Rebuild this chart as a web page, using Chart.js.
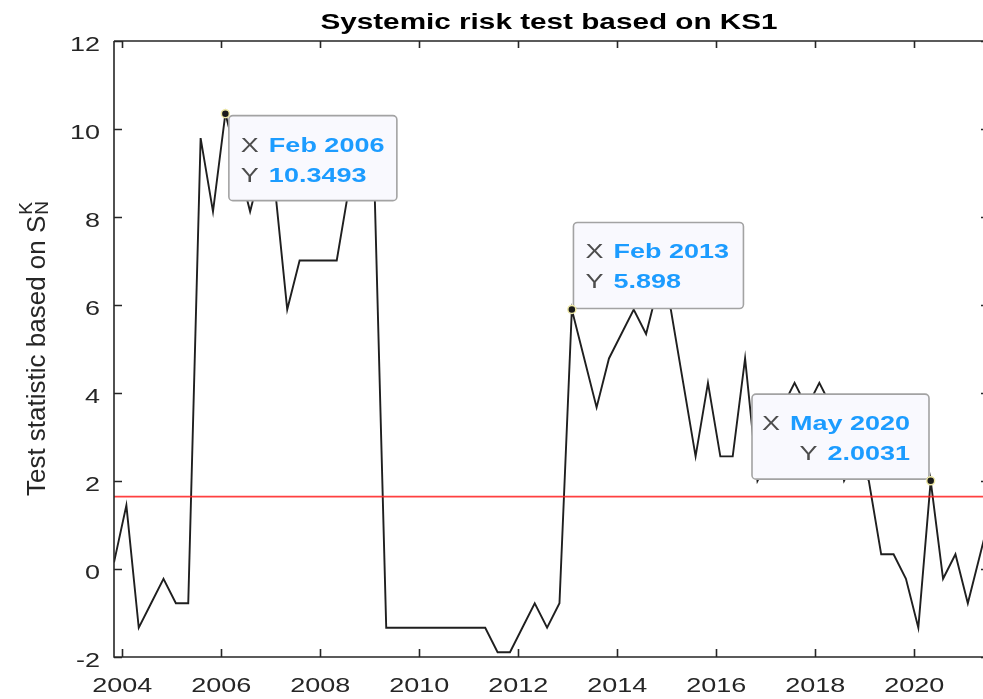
<!DOCTYPE html>
<html>
<head>
<meta charset="utf-8">
<script src="https://cdn.jsdelivr.net/npm/chart.js@4.4.1/dist/chart.umd.min.js"></script>
<style>
  html, body { margin: 0; padding: 0; background: #fff; }
  #wrap { width: 983px; height: 699px; }
</style>
</head>
<body>
<div id="wrap"><canvas id="ks1" width="983" height="699"></canvas></div>
<script>
// quarterly observations
const quarters = [
  'Nov 2003', 'Feb 2004', 'May 2004', 'Aug 2004', 'Nov 2004', 'Feb 2005', 'May 2005', 'Aug 2005',
  'Nov 2005', 'Feb 2006', 'May 2006', 'Aug 2006', 'Nov 2006', 'Feb 2007', 'May 2007', 'Aug 2007',
  'Nov 2007', 'Feb 2008', 'May 2008', 'Aug 2008', 'Nov 2008', 'Feb 2009', 'May 2009', 'Aug 2009',
  'Nov 2009', 'Feb 2010', 'May 2010', 'Aug 2010', 'Nov 2010', 'Feb 2011', 'May 2011', 'Aug 2011',
  'Nov 2011', 'Feb 2012', 'May 2012', 'Aug 2012', 'Nov 2012', 'Feb 2013', 'May 2013', 'Aug 2013',
  'Nov 2013', 'Feb 2014', 'May 2014', 'Aug 2014', 'Nov 2014', 'Feb 2015', 'May 2015', 'Aug 2015',
  'Nov 2015', 'Feb 2016', 'May 2016', 'Aug 2016', 'Nov 2016', 'Feb 2017', 'May 2017', 'Aug 2017',
  'Nov 2017', 'Feb 2018', 'May 2018', 'Aug 2018', 'Nov 2018', 'Feb 2019', 'May 2019', 'Aug 2019',
  'Nov 2019', 'Feb 2020', 'May 2020', 'Aug 2020', 'Nov 2020', 'Feb 2021', 'May 2021', 'Aug 2021',
];

const ks1Stat = [
  0.15, 1.4467, -1.3353, -0.7789, -0.2225, -0.7789, -0.7789, 9.7927,
  8.1235, 10.3493, 9.2363, 8.1235, 9.2363, 8.6799, 5.8979, 7.0107,
  7.0107, 7.0107, 7.0107, 8.6799, 9.7927, 9.2363, -1.3353, -1.3353,
  -1.3353, -1.3353, -1.3353, -1.3353, -1.3353, -1.3353, -1.3353, -1.8917,
  -1.8917, -1.3353, -0.7789, -1.3353, -0.7789, 5.898, 4.7851, 3.6723,
  4.7851, 5.3415, 5.8979, 5.3415, 6.4543, 5.8979, 4.2287, 2.5595,
  4.2287, 2.5595, 2.5595, 4.7851, 2.0031, 2.5595, 3.6723, 4.2287,
  3.6723, 4.2287, 3.6723, 2.0031, 2.5595, 2.0031, 0.3339, 0.3339,
  -0.2225, -1.3353, 2.0031, -0.2225, 0.3339, -0.7789, 0.3339, 1.4467,
];

const criticalValue = 1.645;
const xTickYears = [2004, 2006, 2008, 2010, 2012, 2014, 2016, 2018, 2020];
const yTickValues = [-2, 0, 2, 4, 6, 8, 10, 12];
const datatipQuarters = ['Feb 2006', 'Feb 2013', 'May 2020'];

const monthNames = ['Jan', 'Feb', 'Mar', 'Apr', 'May', 'Jun', 'Jul', 'Aug', 'Sep', 'Oct', 'Nov', 'Dec'];
const toYear = (q) => {
  const [m, y] = q.split(' ');
  return Number(y) + monthNames.indexOf(m) / 12;
};

const points = quarters.map((q, i) => ({ x: toYear(q), y: ks1Stat[i] }));
const xMin = toYear(quarters[0]);
const xMax = 2021.39;

// MATLAB export is stretched sideways, so text gets the same squeeze
const SX = 1.35;
const AXIS = '#262626';
const FONT = '"Liberation Sans", Arial, Helvetica, sans-serif';

function text(ctx, str, x, y, font, color, align) {
  ctx.save();
  ctx.font = font;
  ctx.fillStyle = color;
  ctx.textBaseline = 'alphabetic';
  ctx.textAlign = align || 'left';
  ctx.translate(x, y);
  ctx.scale(SX, 1);
  ctx.fillText(str, 0, 0);
  ctx.restore();
}

function textWidth(ctx, str, font) {
  ctx.save();
  ctx.font = font;
  const w = ctx.measureText(str).width * SX;
  ctx.restore();
  return w;
}

function roundRect(ctx, x, y, w, h, r) {
  ctx.beginPath();
  ctx.moveTo(x + r, y);
  ctx.lineTo(x + w - r, y);
  ctx.arcTo(x + w, y, x + w, y + r, r);
  ctx.lineTo(x + w, y + h - r);
  ctx.arcTo(x + w, y + h, x + w - r, y + h, r);
  ctx.lineTo(x + r, y + h);
  ctx.arcTo(x, y + h, x, y + h - r, r);
  ctx.lineTo(x, y + r);
  ctx.arcTo(x, y, x + r, y, r);
  ctx.closePath();
}

// box offsets relative to the marked point
const tipLayout = [
  { dx: 3.5, dy: 2, w: 168, h: 85, align: 'left' },
  { dx: 1.6, dy: -87, w: 170, h: 86, align: 'left' },
  { dx: -178.7, dy: -86.7, w: 177, h: 85, align: 'right' },
];

const matlabAxes = {
  id: 'matlabAxes',
  afterDraw(chart) {
    const { ctx, chartArea: a, scales } = chart;
    const xs = scales.x, ys = scales.y;
    const tickFont = '20px ' + FONT;

    ctx.save();
    ctx.strokeStyle = AXIS;
    ctx.lineWidth = 1.6;
    ctx.beginPath();
    ctx.moveTo(a.left, a.top);
    ctx.lineTo(a.left, a.bottom);
    ctx.lineTo(a.right + 5, a.bottom);
    ctx.moveTo(a.left, a.top);
    ctx.lineTo(a.right + 5, a.top);
    xTickYears.forEach((yr) => {
      const px = Math.round(xs.getPixelForValue(yr)) + 0.5;
      ctx.moveTo(px, a.bottom);
      ctx.lineTo(px, a.bottom - 8);
      ctx.moveTo(px, a.top);
      ctx.lineTo(px, a.top + 7);
    });
    yTickValues.forEach((v) => {
      const py = Math.round(ys.getPixelForValue(v)) + 0.5;
      ctx.moveTo(a.left, py);
      ctx.lineTo(a.left + 8, py);
      ctx.moveTo(a.right - 2, py);
      ctx.lineTo(a.right, py);
    });
    ctx.stroke();
    ctx.restore();

    xTickYears.forEach((yr) => {
      text(ctx, String(yr), xs.getPixelForValue(yr), 691.5, tickFont, AXIS, 'center');
    });
    yTickValues.forEach((v) => {
      text(ctx, String(v), 100, ys.getPixelForValue(v) + 10, tickFont, AXIS, 'right');
    });

    text(ctx, 'Systemic risk test based on KS1', 549, 29, 'bold 22px ' + FONT, '#000', 'center');

    // y label with S_N^K, rotated
    ctx.save();
    ctx.translate(45, 349);
    ctx.rotate(-Math.PI / 2);
    ctx.fillStyle = AXIS;
    ctx.textBaseline = 'alphabetic';
    const mainFont = '26px ' + FONT;
    const smallFont = '19px ' + FONT;
    ctx.font = mainFont;
    const mainStr = 'Test statistic based on S';
    const wMain = ctx.measureText(mainStr).width;
    ctx.font = smallFont;
    const wSmall = Math.max(ctx.measureText('N').width, ctx.measureText('K').width);
    const start = -(wMain + wSmall) / 2;
    ctx.font = mainFont;
    ctx.fillText(mainStr, start, 0);
    ctx.font = smallFont;
    ctx.fillText('K', start + wMain + 1, -13);
    ctx.fillText('N', start + wMain + 1, 3);
    ctx.restore();

    // datatips
    const valFont = 'bold 20px ' + FONT;
    const labFont = '20px ' + FONT;
    datatipQuarters.forEach((q, i) => {
      const idx = quarters.indexOf(q);
      const px = xs.getPixelForValue(toYear(q));
      const py = ys.getPixelForValue(ks1Stat[idx]);
      const L = tipLayout[i];
      const bx = px + L.dx, by = py + L.dy;

      ctx.save();
      roundRect(ctx, bx, by, L.w, L.h, 4);
      ctx.fillStyle = '#f9f9fe';
      ctx.fill();
      ctx.strokeStyle = '#a3a3a3';
      ctx.lineWidth = 1.6;
      ctx.stroke();
      ctx.restore();

      const rows = [['X', q], ['Y', String(ks1Stat[idx])]];
      rows.forEach(([lab, val], r) => {
        const base = by + 36 + r * 30;
        if (L.align === 'left') {
          text(ctx, lab, bx + 12, base, labFont, '#4d4d4d', 'left');
          text(ctx, val, bx + 40, base, valFont, '#1c9cff', 'left');
        } else {
          const right = bx + L.w - 19;
          const vw = textWidth(ctx, val, valFont);
          text(ctx, val, right, base, valFont, '#1c9cff', 'right');
          text(ctx, lab, right - vw - 10, base, labFont, '#4d4d4d', 'right');
        }
      });

      ctx.save();
      ctx.beginPath();
      ctx.arc(px, py, 4, 0, Math.PI * 2);
      ctx.fillStyle = '#1a1a1a';
      ctx.fill();
      ctx.strokeStyle = '#efe9a6';
      ctx.lineWidth = 1.5;
      ctx.stroke();
      ctx.restore();
    });
  },
};

new Chart(document.getElementById('ks1'), {
  type: 'line',
  data: {
    datasets: [
      {
        label: 'Critical value',
        data: [{ x: xMin, y: criticalValue }, { x: xMax, y: criticalValue }],
        borderColor: 'rgba(255, 30, 30, 0.85)',
        borderWidth: 1.7,
        pointRadius: 0,
      },
      {
        label: 'KS1',
        data: points,
        borderColor: '#1f1f1f',
        borderWidth: 1.9,
        pointRadius: 0,
        tension: 0,
      },
    ],
  },
  options: {
    responsive: false,
    animation: false,
    layout: { padding: { left: 114, right: 0, top: 41, bottom: 42 } },
    plugins: { legend: { display: false }, tooltip: { enabled: false } },
    scales: {
      x: { type: 'linear', min: xMin, max: xMax, display: false },
      y: { type: 'linear', min: -2, max: 12, display: false },
    },
  },
  plugins: [matlabAxes],
});
</script>
</body>
</html>
